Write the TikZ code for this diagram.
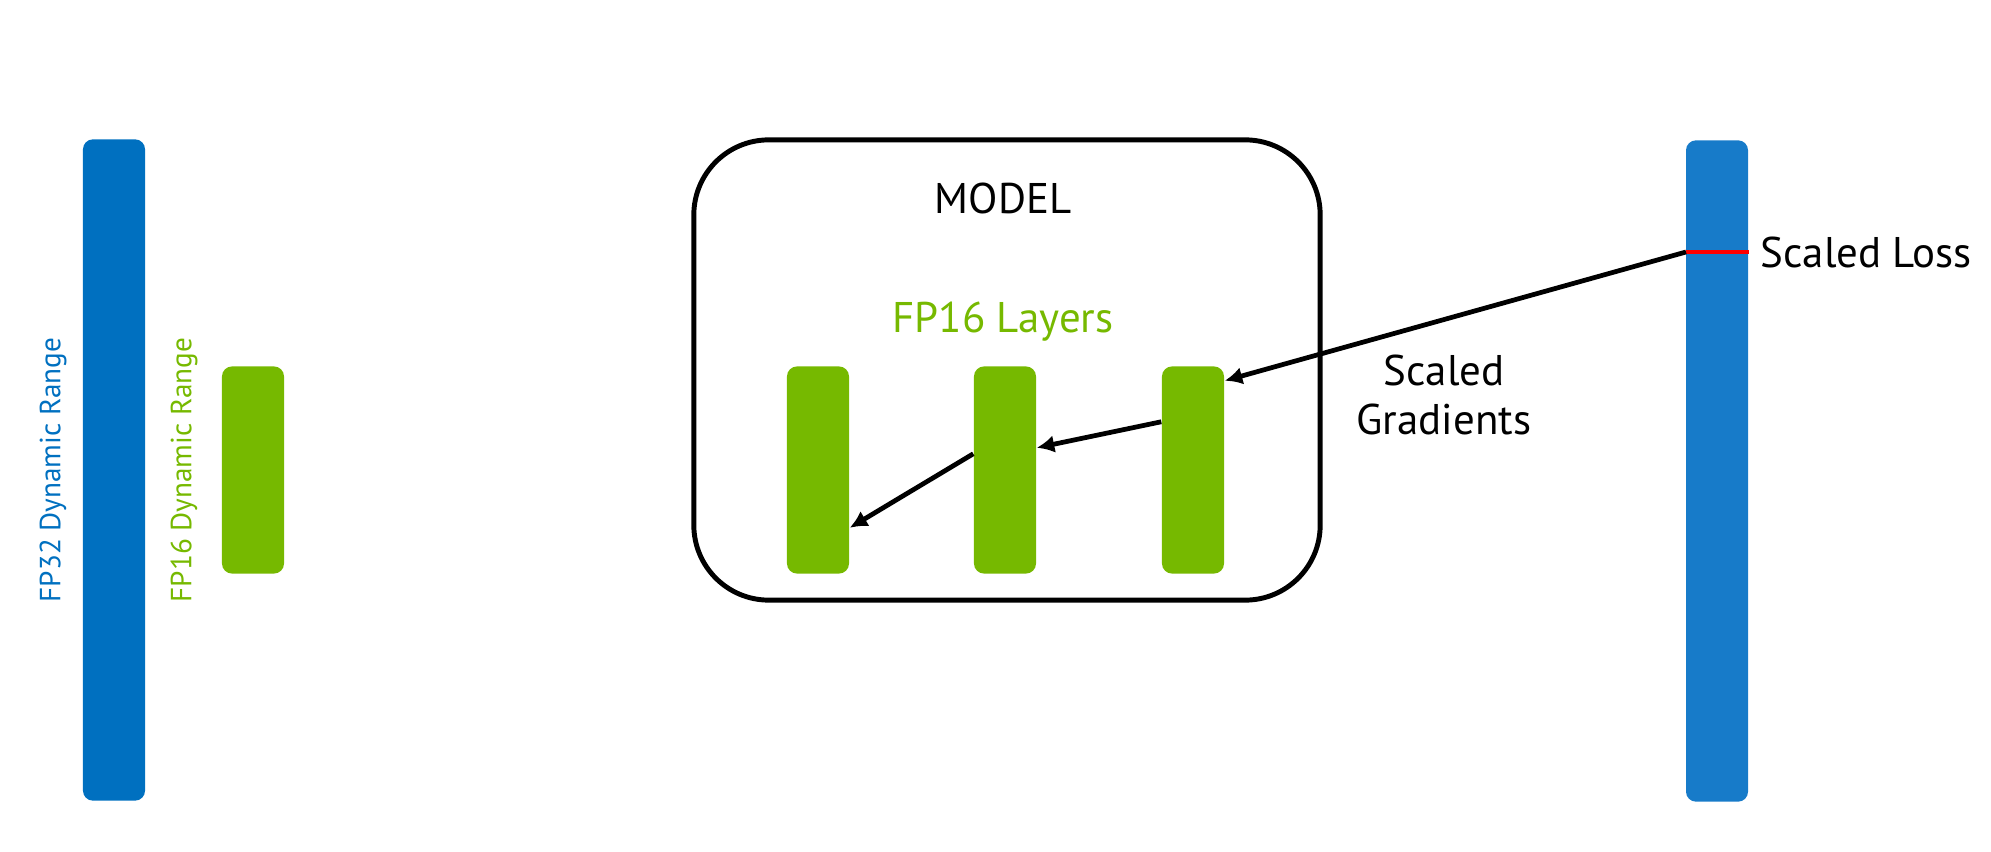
\documentclass[tikz,border=0pt]{standalone}
\usepackage{fontspec}
\setmainfont{PT Sans}
\usetikzlibrary{arrows.meta}
\definecolor{nvgreen}{HTML}{76B900}
\definecolor{fpblue}{HTML}{0070C0}
\definecolor{lossblue}{HTML}{177BC9}
\tikzset{
    rangebar/.style={rounded corners=0.1cm, minimum width=0.62cm, inner sep=0pt, draw=none},
    biglabel/.style={font=\fontsize{12.2}{13.8}\selectfont, inner sep=0pt},
    sidelabel/.style={rotate=90, font=\fontsize{8.3}{9.5}\selectfont, inner sep=0pt},
    gradarrow/.style={line width=1.35pt, -{Latex[length=5pt, width=5pt]}}
}

\begin{document}
\begin{tikzpicture}[x=0.01cm, y=-0.01cm]

		\useasboundingbox (0,0) rectangle (1991,852);

		\def\layerheight{2.07cm}
		\def\fullheight{6.61cm}

		% dynamic ranges
		\node[rangebar, fill=fpblue, minimum height=\fullheight] (fp32bar) at (114,470) {};
		\node[sidelabel, text=fpblue] (fp32label) at (53,470) {FP32 Dynamic Range};

		\node[rangebar, fill=nvgreen, minimum height=\layerheight] (fp16bar) at (253,470) {};
		\node[sidelabel, text=nvgreen] (fp16label) at (184,470) {FP16 Dynamic Range};

		% model
		\node[draw, line width=1.4pt, rounded corners=0.75cm, minimum width=6.26cm, minimum height=4.6cm] (model) at (1007,370) {};
		\node[biglabel] (modellabel) at (1003,198) {MODEL};
		\node[biglabel, text=nvgreen] (layerslabel) at (1003,322) {FP16 Layers};

		\foreach \i/\x in {1/818, 2/1005, 3/1193}
			\node[rangebar, fill=nvgreen, minimum height=\layerheight] (layer\i) at (\x,470) {};

		% scaled loss
		\node[rangebar, fill=lossblue, minimum height=\fullheight] (lossbar) at (1717,471) {};
		\coordinate (losslevel) at (1686,252);
		\draw[red, line width=1.2pt] (losslevel) -- (losslevel -| lossbar.east);
		\node[biglabel, anchor=west] (losslabel) at (1760,252) {Scaled Loss};

		\node[biglabel, align=center] (gradlabel) at (1444,395) {Scaled\\Gradients};

		\draw[gradarrow] (losslevel) -- ([yshift=-0.15cm]layer3.north east);
		\draw[gradarrow] ([yshift=-0.56cm]layer3.north west) -- ([yshift=-0.82cm]layer2.north east);
		\draw[gradarrow] ([yshift=-0.88cm]layer2.north west) -- ([yshift=-1.62cm]layer1.north east);

	\end{tikzpicture}
\end{document}
